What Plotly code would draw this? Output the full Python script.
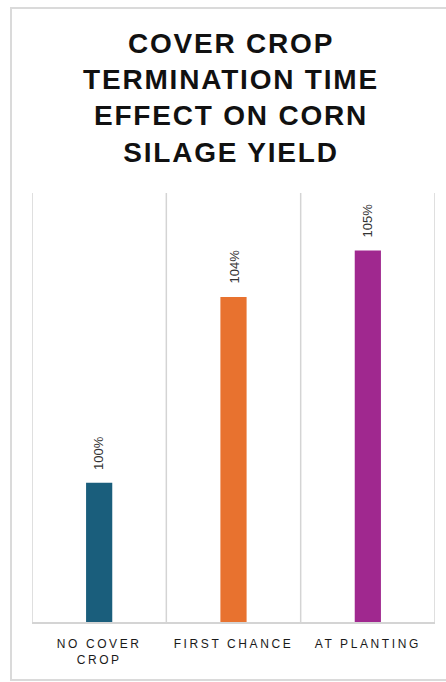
import plotly.graph_objects as go

# Corn silage yield relative to the no-cover-crop check
categories = ["NO COVER<br>CROP", "FIRST CHANCE", "AT PLANTING"]
yield_pct = [100, 104, 105]
bar_colors = ["#1a5e7c", "#e8722f", "#a0288f"]
title_lines = ["COVER CROP", "TERMINATION TIME", "EFFECT ON CORN", "SILAGE YIELD"]

W, H = 446, 682
FONT = "Liberation Sans, Arial, sans-serif"
GRID = "#d4d4d4"


def spaced(text, px):
    return f'<span style="letter-spacing:{px}px">{text}</span>'


x_idx = list(range(len(categories)))

fig = go.Figure(
    go.Bar(
        x=x_idx,
        y=yield_pct,
        marker=dict(color=bar_colors, line=dict(width=0)),
        width=0.195,
        hoverinfo="skip",
    )
)

# value labels, rotated, sitting just above each bar
for xi, v in zip(x_idx, yield_pct):
    fig.add_annotation(
        x=xi, y=v, xref="x", yref="y",
        text=f"{v}%", textangle=-90,
        showarrow=False, yanchor="bottom", xanchor="center", yshift=11,
        font=dict(family=FONT, size=13, color="#333333"),
    )

# vertical separators between categories
for b in [-0.5, 0.5, 1.5, 2.5]:
    fig.add_shape(
        type="line", xref="x", yref="y domain",
        x0=b, x1=b, y0=0, y1=1,
        line=dict(color=GRID, width=1.5), layer="below",
    )

# outer frame: left, top and bottom edges (right side runs off the page)
fx0, fx1 = (11 - 32) / 403, (446 - 32) / 403
fy0, fy1 = -(680 - 622) / 429, 1 + (193 - 8) / 429
fig.add_shape(
    type="path", xref="paper", yref="paper",
    path=f"M {fx1},{fy1} L {fx0},{fy1} L {fx0},{fy0} L {fx1},{fy0}",
    line=dict(color="#dadada", width=2), layer="below",
)

fig.update_layout(
    width=W, height=H,
    margin=dict(l=32, r=11, t=193, b=60, pad=0),
    paper_bgcolor="white", plot_bgcolor="white",
    showlegend=False,
    title=dict(
        text="<br>".join(spaced(t, 1.8) for t in title_lines),
        x=231 / W, xref="container", xanchor="center",
        y=1 - 52.5 / H, yref="container", yanchor="middle",
        font=dict(family=FONT, size=28, color="#111111", weight="bold"),
    ),
    xaxis=dict(
        range=[-0.5, 2.5],
        tickmode="array", tickvals=x_idx,
        ticktext=[spaced(c, 2.6) for c in categories],
        tickfont=dict(family=FONT, size=12, color="#1a1a1a"),
        showgrid=False, zeroline=False,
        showline=True, linecolor=GRID, linewidth=1.5,
        ticks="", ticklabelstandoff=10,
        fixedrange=True,
    ),
    yaxis=dict(
        range=[97, 106.24],
        showgrid=False, zeroline=False, showline=False,
        showticklabels=False, ticks="",
        fixedrange=True,
    ),
)

fig.write_html("out.html")
